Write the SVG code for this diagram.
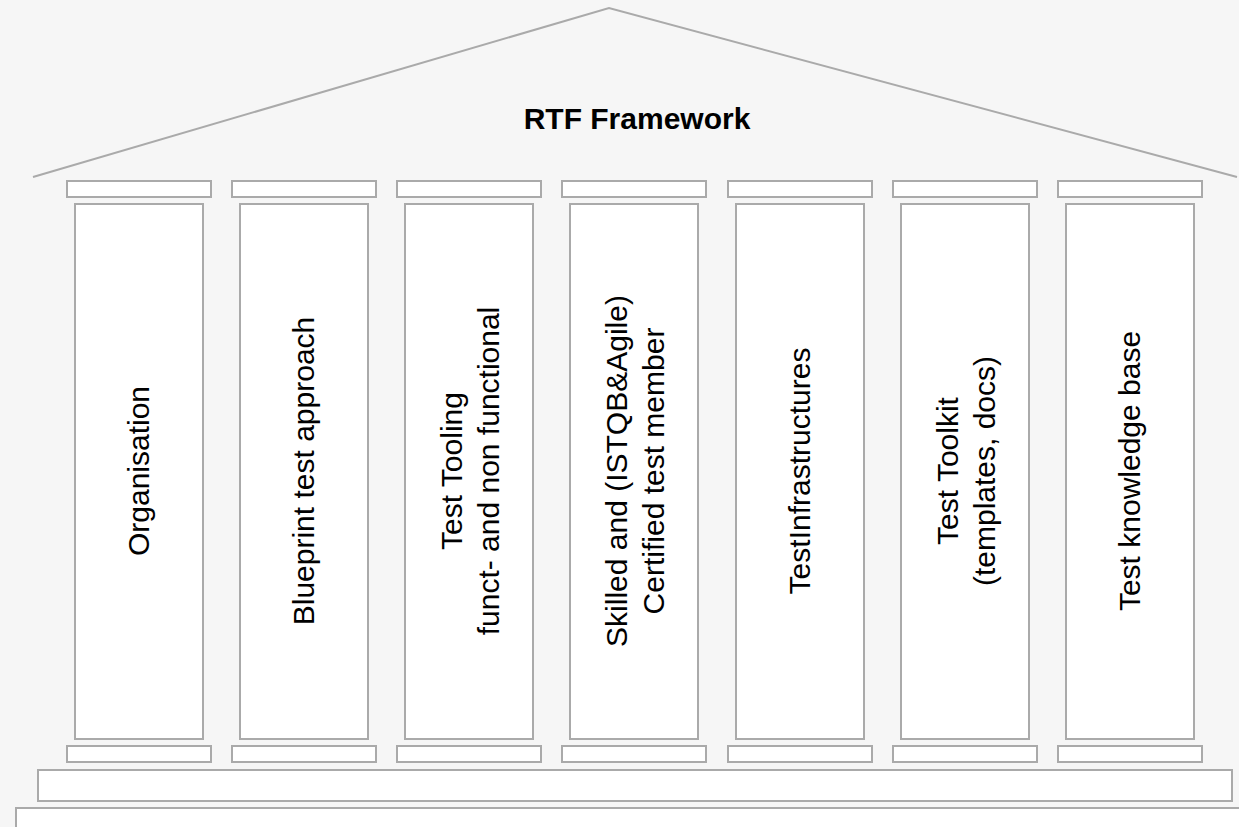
<svg xmlns="http://www.w3.org/2000/svg" width="1239" height="827" viewBox="0 0 1239 827">
<style>
.bg{fill:#f6f6f6}
.part{fill:#ffffff;stroke:#aaaaaa;stroke-width:2}
.roof{fill:none;stroke:#aaaaaa;stroke-width:2}
.title{font-family:"Liberation Sans",Arial,sans-serif;font-size:30px;font-weight:bold;fill:#000;text-anchor:middle}
.lbl{font-family:"Liberation Sans",Arial,sans-serif;font-size:30px;fill:#000;text-anchor:middle}
</style>
<rect class="bg" x="0" y="0" width="1239" height="827"/>
<g id="roof">
<polyline class="roof" points="33,177 609,8 1237,177"/>
<text class="title" x="637" y="129">RTF Framework</text>
</g>
<g id="foundation">
<rect class="part" x="38" y="770" width="1194" height="31"/>
<rect class="part" x="16" y="808" width="1240" height="30"/>
</g>
<g id="col1">
<rect class="part" x="67" y="181" width="144" height="16"/>
<rect class="part" x="75" y="204" width="128" height="535"/>
<rect class="part" x="67" y="746" width="144" height="16"/>
<text class="lbl" transform="translate(139,471) rotate(-90)" dy="10">Organisation</text>
</g>
<g id="col2">
<rect class="part" x="232" y="181" width="144" height="16"/>
<rect class="part" x="240" y="204" width="128" height="535"/>
<rect class="part" x="232" y="746" width="144" height="16"/>
<text class="lbl" transform="translate(304,471) rotate(-90)" dy="10">Blueprint test approach</text>
</g>
<g id="col3">
<rect class="part" x="397" y="181" width="144" height="16"/>
<rect class="part" x="405" y="204" width="128" height="535"/>
<rect class="part" x="397" y="746" width="144" height="16"/>
<text class="lbl" transform="translate(469,471) rotate(-90)"><tspan x="0" dy="-7">Test Tooling</tspan><tspan x="0" dy="37">funct- and non functional</tspan></text>
</g>
<g id="col4">
<rect class="part" x="562" y="181" width="144" height="16"/>
<rect class="part" x="570" y="204" width="128" height="535"/>
<rect class="part" x="562" y="746" width="144" height="16"/>
<text class="lbl" transform="translate(634,471) rotate(-90)"><tspan x="0" dy="-7">Skilled and (ISTQB&amp;Agile)</tspan><tspan x="0" dy="37">Certified test member</tspan></text>
</g>
<g id="col5">
<rect class="part" x="728" y="181" width="144" height="16"/>
<rect class="part" x="736" y="204" width="128" height="535"/>
<rect class="part" x="728" y="746" width="144" height="16"/>
<text class="lbl" transform="translate(800,471) rotate(-90)" dy="10">TestInfrastructures</text>
</g>
<g id="col6">
<rect class="part" x="893" y="181" width="144" height="16"/>
<rect class="part" x="901" y="204" width="128" height="535"/>
<rect class="part" x="893" y="746" width="144" height="16"/>
<text class="lbl" transform="translate(965,471) rotate(-90)"><tspan x="0" dy="-7">Test Toolkit</tspan><tspan x="0" dy="37">(templates, docs)</tspan></text>
</g>
<g id="col7">
<rect class="part" x="1058" y="181" width="144" height="16"/>
<rect class="part" x="1066" y="204" width="128" height="535"/>
<rect class="part" x="1058" y="746" width="144" height="16"/>
<text class="lbl" transform="translate(1130,471) rotate(-90)" dy="10">Test knowledge base</text>
</g>
</svg>
